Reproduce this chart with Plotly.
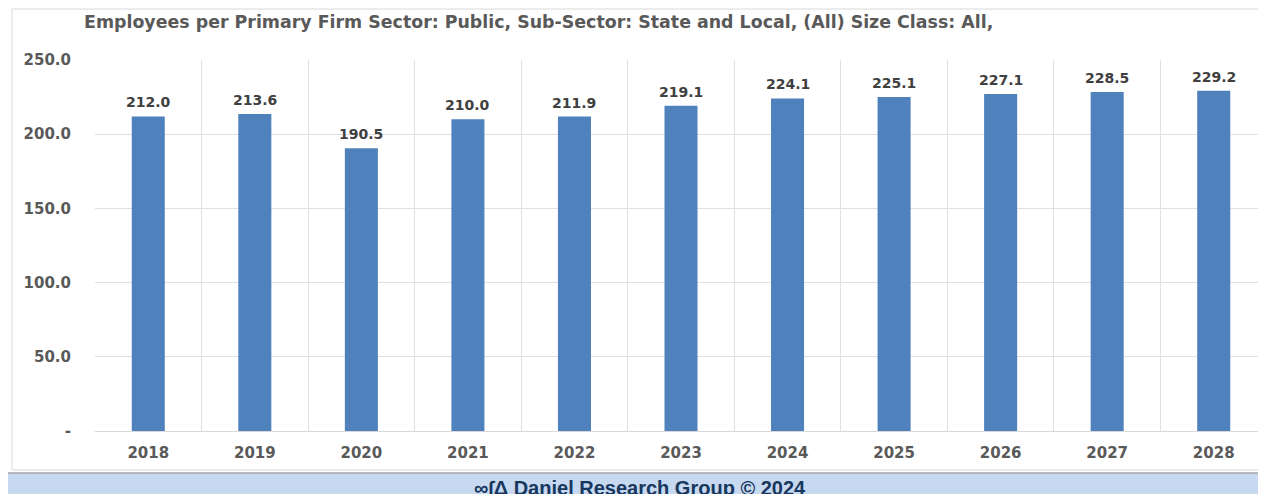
import plotly.graph_objects as go

years = ["2018", "2019", "2020", "2021", "2022", "2023", "2024", "2025", "2026", "2027", "2028"]
employees = [212.0, 213.6, 190.5, 210.0, 211.9, 219.1, 224.1, 225.1, 227.1, 228.5, 229.2]
y_tickvals = [0, 50, 100, 150, 200, 250]
y_ticktext = ["-", "50.0", "100.0", "150.0", "200.0", "250.0"]
title_text = "Employees per Primary Firm Sector: Public, Sub-Sector: State and Local, (All) Size Class: All,"
footer_text = "∞∫Δ Daniel Research Group © 2024"

# page body adds an 8px offset; figure coordinates below are relative to the figure
W, H = 1259, 486
ML, MR, MT, MB = 87, 0, 52, 63
PW, PH = W - ML - MR, H - MT - MB
FONT = "DejaVu Sans"

def px_x(x):
    return (x - ML) / PW

def px_y(y):
    return (H - MB - y) / PH

fig = go.Figure(go.Bar(
    x=years, y=employees,
    marker=dict(color="#4F81BD", line=dict(width=0)),
    hoverinfo="x+y",
))

for i, v in enumerate(employees):
    fig.add_annotation(x=i, y=v, xref="x", yref="y", text=f"{v:.1f}", showarrow=False,
                       xanchor="center", yanchor="bottom", yshift=4,
                       font=dict(family=FONT, size=14, color="#404040", weight="bold"))

fig.update_layout(
    width=W, height=H,
    margin=dict(l=ML, r=MR, t=MT, b=MB),
    paper_bgcolor="white", plot_bgcolor="white",
    bargap=0.69,
    showlegend=False,
    title=dict(text=title_text, xref="container", yref="container",
               x=76 / W, xanchor="left", y=1 - 14 / H, yanchor="middle",
               font=dict(family=FONT, size=17.4, color="#595959", weight="bold")),
    xaxis=dict(type="category", categoryorder="array", categoryarray=years,
               range=[-0.5, len(years) - 0.5], autorange=False,
               tickson="boundaries", showgrid=True, gridcolor="#E0E0E0",
               gridwidth=1, ticks="", showline=False, zeroline=False,
               tickfont=dict(family=FONT, size=15, color="#595959", weight="bold"),
               ticklabelstandoff=11),
    yaxis=dict(range=[0, 250], autorange=False, tickvals=y_tickvals, ticktext=y_ticktext,
               showgrid=True, gridcolor="#E0E0E0", gridwidth=1, zeroline=True,
               zerolinecolor="#D9D9D9", zerolinewidth=1, showline=False, ticks="",
               tickfont=dict(family=FONT, size=15, color="#595959", weight="bold"),
               ticklabelstandoff=23),
)

shapes = [
    # outer chart border
    dict(type="rect", xref="paper", yref="paper", x0=px_x(4), x1=px_x(W + 5),
         y0=px_y(462), y1=px_y(1), line=dict(color="#D9D9D9", width=1), fillcolor="rgba(0,0,0,0)",
         layer="below"),
    # footer band
    dict(type="rect", xref="paper", yref="paper", x0=px_x(-10), x1=px_x(W + 10),
         y0=px_y(H + 10), y1=px_y(465), line=dict(width=0), fillcolor="#C6D9F1", layer="below"),
    dict(type="line", xref="paper", yref="paper", x0=px_x(-10), x1=px_x(W + 10),
         y0=px_y(465), y1=px_y(465), line=dict(color="#A6A6A6", width=1.5)),
]
fig.update_layout(shapes=shapes)

fig.add_annotation(text=footer_text, xref="paper", yref="paper",
                   x=px_x(632), y=px_y(480), xanchor="center", yanchor="middle",
                   showarrow=False,
                   font=dict(family="Liberation Sans", size=20, color="#17375E", weight="bold"))

fig.write_html("out.html")
